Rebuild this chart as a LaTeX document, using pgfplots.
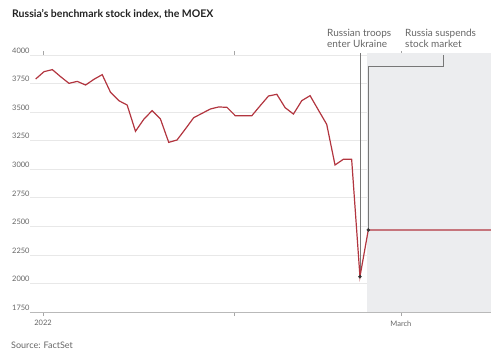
\documentclass[border=0pt]{standalone}
\usepackage{fontspec}
\setmainfont{Lato}
\usepackage{pgfplots}
\pgfplotsset{compat=1.18}
\definecolor{linered}{HTML}{B2353F}
\definecolor{band}{HTML}{ECEDEF}
\definecolor{gridc}{HTML}{E8E8E8}
\definecolor{txt}{HTML}{666666}
\definecolor{titlec}{HTML}{222222}
\definecolor{annc}{HTML}{777777}
\begin{document}
\begin{tikzpicture}
\useasboundingbox (-30pt,-45pt) rectangle (469pt,312pt);
\begin{axis}[
  scale only axis, width=461pt, height=257pt,
  at={(0pt,0pt)}, anchor=south west,
  xmin=-0.686, xmax=54.76, ymin=1750, ymax=4000,
  clip=false,
  axis line style={draw=none},
  ytick={1750,2000,...,4000},
  ymajorgrids, grid style={gridc, line width=0.7pt},
  xtick={0.878,23.85,43.93}, xticklabels={2022,,March},
  tick align=outside, major tick length=4pt,
  xtick style={draw=gray!70, line width=0.6pt},
  ytick style={draw=none},
  ticklabel style={font=\fontsize{7.5}{9}\selectfont, text=txt},
  yticklabel style={anchor=base west, inner sep=0pt, xshift=-14pt, yshift=1.7pt},
  xticklabel style={yshift=-1pt},
  /pgf/number format/assume math mode=true,
  /pgf/number format/set thousands separator={},
]
\fill[band] (axis cs:39.88,1750) rectangle (axis cs:54.76,4017);
\draw[gray!55, line width=0.7pt] (rel axis cs:0,0) -- (rel axis cs:1,0);
\draw[annc, line width=0.8pt] (axis cs:39,2059) -- (axis cs:39,4017);
\draw[annc, line width=0.8pt] (axis cs:40,2468) -- (axis cs:40,3904) -- (axis cs:49,3904) -- (axis cs:49,4000);
\addplot[linered, line width=1.2pt, mark=none] coordinates {
(0,3790)(1,3854)(2,3872)(3,3810)(4,3752)(5,3769)(6,3737)(7,3787)(8,3828)(9,3673)
(10,3600)(11,3562)(12,3332)(13,3437)(14,3513)(15,3440)(16,3235)(17,3256)(18,3352)(19,3451)
(20,3489)(21,3527)(22,3545)(23,3542)(24,3469)(25,3469)(26,3469)(27,3556)(28,3641)(29,3656)
(30,3539)(31,3483)(32,3600)(33,3644)(34,3518)(35,3393)(36,3037)(37,3087)(38,3087)(39,2059)
(40,2468)(54.76,2468)};
\addplot[only marks, mark=*, mark size=1.5pt, color=black!80] coordinates {(39,2059)(40,2468)};
\end{axis}
\node[anchor=base west, inner sep=0pt, font=\bfseries\fontsize{10.5}{12}\selectfont, text=titlec] at (-18pt,294.5pt) {Russia’s benchmark stock index, the MOEX};
\node[anchor=base west, inner sep=0pt, font=\fontsize{10}{12}\selectfont, text=txt] at (297pt,276pt) {Russian troops};
\node[anchor=base west, inner sep=0pt, font=\fontsize{10}{12}\selectfont, text=txt] at (297pt,264.7pt) {enter Ukraine};
\node[anchor=base west, inner sep=0pt, font=\fontsize{10}{12}\selectfont, text=txt] at (375pt,276pt) {Russia suspends};
\node[anchor=base west, inner sep=0pt, font=\fontsize{10}{12}\selectfont, text=txt] at (375pt,264.7pt) {stock market};
\node[anchor=base west, inner sep=0pt, font=\fontsize{9}{11}\selectfont, text=txt] at (-19pt,-36pt) {Source: FactSet};
\end{tikzpicture}
\end{document}
